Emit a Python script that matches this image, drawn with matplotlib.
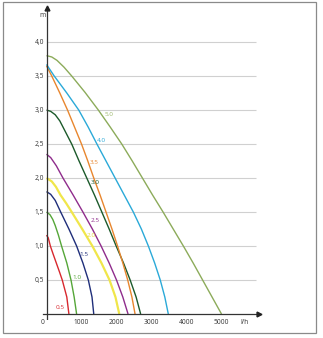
import matplotlib
matplotlib.use("Agg")
import matplotlib.pyplot as plt
from matplotlib.patches import Rectangle

plt.rcParams['font.family'] = ['Open Sans', 'DejaVu Sans']

# Pump curves: flow (l/h) vs head (m) for each pump size
curve_names = ["0.5", "1.0", "1.5", "2.0", "2.5", "3.0", "3.5", "4.0", "5.0"]

q_05 = [0, 50, 110, 190, 280, 370, 450, 580, 640]
h_05 = [1.16, 1.12, 1.0, 0.88, 0.75, 0.62, 0.5, 0.25, 0.0]

q_10 = [0, 100, 180, 250, 340, 430, 580, 700, 790, 860]
h_10 = [1.5, 1.46, 1.39, 1.3, 1.16, 1.0, 0.75, 0.5, 0.25, 0.0]

q_15 = [0, 120, 250, 405, 640, 860, 1040, 1195, 1300, 1350]
h_15 = [1.8, 1.76, 1.67, 1.5, 1.25, 1.0, 0.75, 0.5, 0.25, 0.0]

q_20 = [0, 150, 270, 400, 560, 720, 1020, 1310, 1570, 1800, 1970, 2080]
h_20 = [2.0, 1.95, 1.87, 1.75, 1.63, 1.5, 1.25, 1.0, 0.75, 0.5, 0.25, 0.0]

q_25 = [0, 120, 280, 470, 760, 1040, 1310, 1560, 1790, 2000, 2180, 2330]
h_25 = [2.35, 2.3, 2.18, 2.0, 1.75, 1.5, 1.25, 1.0, 0.75, 0.5, 0.25, 0.0]

q_30 = [0, 120, 250, 380, 520, 720, 930, 1150, 1370, 1580, 1790, 1990,
        2200, 2390, 2560, 2690]
h_30 = [3.0, 2.98, 2.93, 2.84, 2.7, 2.5, 2.25, 2.0, 1.75, 1.5, 1.25, 1.0,
        0.75, 0.5, 0.25, 0.0]

q_35 = [0, 150, 380, 600, 800, 1000, 1180, 1350, 1530, 1700, 1870, 2030,
        2180, 2320, 2440, 2530]
h_35 = [3.65, 3.5, 3.25, 3.0, 2.75, 2.5, 2.25, 2.0, 1.75, 1.5, 1.25, 1.0,
        0.75, 0.5, 0.25, 0.0]

q_40 = [0, 220, 580, 920, 1190, 1440, 1700, 1960, 2220, 2480, 2710, 2910,
        3090, 3250, 3380, 3480]
h_40 = [3.67, 3.5, 3.25, 3.0, 2.75, 2.5, 2.25, 2.0, 1.75, 1.5, 1.25, 1.0,
        0.75, 0.5, 0.25, 0.0]

q_50 = [0, 150, 300, 500, 720, 1100, 1480, 1820, 2150, 2450, 2740, 3030,
        3330, 3620, 3910, 4190, 4460, 4730, 5000]
h_50 = [3.8, 3.78, 3.73, 3.63, 3.5, 3.26, 3.0, 2.75, 2.5, 2.25, 2.0, 1.75,
        1.5, 1.25, 1.0, 0.75, 0.5, 0.25, 0.0]

# Where each curve's name is written
label_q = [375, 880, 1080, 1290, 1390, 1390, 1370, 1580, 1800]
label_h = [0.09, 0.53, 0.87, 1.16, 1.38, 1.93, 2.23, 2.55, 2.93]

x_ticks = [0, 1000, 2000, 3000, 4000, 5000]
x_tick_labels = ["0", "1000", "2000", "3000", "4000", "5000"]
y_ticks = [0.5, 1.0, 1.5, 2.0, 2.5, 3.0, 3.5, 4.0]
y_tick_labels = ["0,5", "1,0", "1,5", "2,0", "2,5", "3,0", "3,5", "4,0"]

curves_q = [q_05, q_10, q_15, q_20, q_25, q_30, q_35, q_40, q_50]
curves_h = [h_05, h_10, h_15, h_20, h_25, h_30, h_35, h_40, h_50]
colors = ["#d8282e", "#55a638", "#1f2e7a", "#f0e64a", "#8f2c8c",
          "#1c5a2b", "#e8862e", "#2aa9d8", "#8cab5a"]
widths = [1.0, 1.0, 1.0, 1.6, 1.0, 1.0, 1.0, 1.0, 1.0]
label_colors = ["#d8282e", "#55a638", "#1f2e7a", "#e6d83a", "#8f2c8c",
                "#1c5a2b", "#e8862e", "#2aa9d8", "#9cb86a"]

W, H = 323, 338
fig = plt.figure(figsize=(W / 100, H / 100), dpi=100)

# outer frame
fig.patches.append(Rectangle((3 / W, 1 - 333 / H), 313 / W, 331 / H,
                             transform=fig.transFigure, fill=False,
                             edgecolor="#8a8a8a", linewidth=0.9))

ax = fig.add_axes([40 / W, 1 - 320 / H, 222 / W, 316 / H])
ax.set_xlim(-186, 6157)
ax.set_ylim(-0.088, 4.559)
ax.axis("off")

# grid
ax.hlines(y_ticks, 0, 5980, colors="#d0d0d0", linewidth=0.8, zorder=1)

# axes with arrows
ax.plot([-100, 6040], [0, 0], color="#333333", linewidth=0.9, zorder=4)
ax.plot([0, 0], [-0.07, 4.47], color="#333333", linewidth=0.9, zorder=4)
ax.plot([6060], [0], marker=">", markersize=3.5, color="#222222", zorder=5)
ax.plot([0], [4.50], marker="^", markersize=3.5, color="#222222", zorder=5)

# curves
for q, h, c, lw in zip(curves_q, curves_h, colors, widths):
    ax.plot(q, h, color=c, linewidth=lw, solid_capstyle="butt",
            solid_joinstyle="round", zorder=3)

for name, lq, lh, lc in zip(curve_names, label_q, label_h, label_colors):
    ax.text(lq, lh, name, color=lc, fontsize=4.6, ha="center", va="center",
            zorder=6)

# tick labels
fs = 4.8
for t, s in zip(x_ticks, x_tick_labels):
    xpos = -100 if t == 0 else t
    ax.text(xpos, -0.12, s, fontsize=fs, ha="center", va="center",
            color="#333333")
for t, s in zip(y_ticks, y_tick_labels):
    ax.text(-70, t, s, fontsize=fs, ha="right", va="center", color="#333333")

ax.text(-110, 4.39, "m", fontsize=fs, ha="center", va="center",
        color="#333333")
ax.text(5650, -0.12, "l/h", fontsize=fs, ha="center", va="center",
        color="#333333")

fig.savefig("out.png", dpi=100)
